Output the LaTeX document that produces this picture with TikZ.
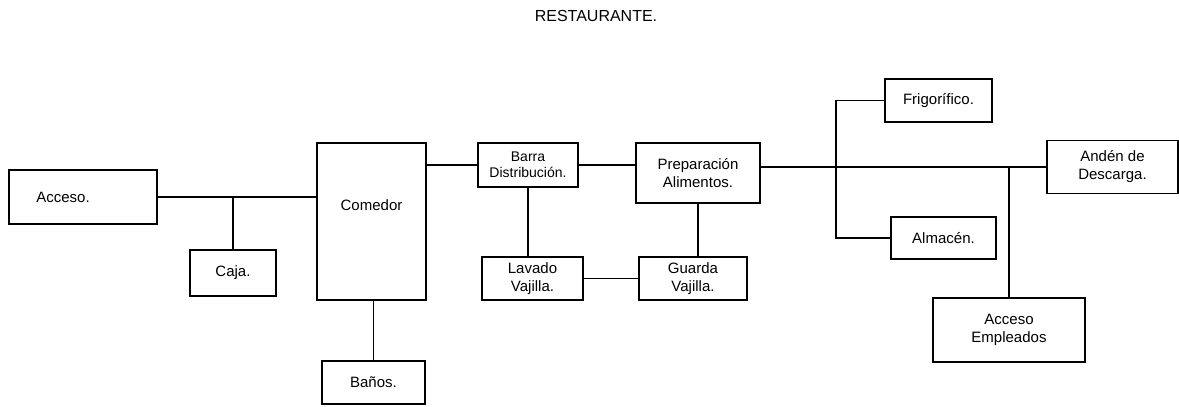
\documentclass[tikz,border=0pt]{standalone}
\usepackage{fontspec}
\setmainfont{Liberation Sans}
\begin{document}
\begin{tikzpicture}[x=1pt,y=-1pt,
  blk/.style={draw, line width=1.5pt, inner sep=0pt, align=center,
    font=\fontsize{15}{18}\selectfont},
  link/.style={line width=1.5pt}]
\useasboundingbox[fill=white] (0,0) rectangle (1179,407);
\node[font=\fontsize{16}{18}\selectfont] (title) at (596,16) {RESTAURANTE.};
\node[blk, minimum width=148, minimum height=54] (acceso) at (83,197) {Acceso.\hspace*{40pt}};
\node[blk, minimum width=86, minimum height=46] (caja) at (233,273) {Caja.};
\node[blk, minimum width=109, minimum height=157] (comedor) at (371.5,221.5) {Comedor\\[14pt]};
\node[blk, minimum width=103, minimum height=43] (banos) at (373.5,382.5) {Baños.};
\node[blk, minimum width=100, minimum height=44, font=\fontsize{14}{16}\selectfont] (barra) at (528,165) {Barra\\Distribución.};
\node[blk, minimum width=124, minimum height=60] (prep) at (698,173) {Preparación\\Alimentos.};
\node[blk, minimum width=101, minimum height=43] (lavado) at (532.5,278.5) {Lavado\\Vajilla.};
\node[blk, minimum width=108, minimum height=43] (guarda) at (693,278.5) {Guarda\\Vajilla.};
\node[blk, minimum width=107, minimum height=43] (frigo) at (938.5,100.5) {Frigorífico.};
\node[blk, minimum width=105, minimum height=42] (almacen) at (943.5,238) {Almacén.};
\node[blk, minimum width=131, minimum height=53] (anden) at (1112.5,167) {Andén de\\Descarga.};
\node[blk, minimum width=152, minimum height=64] (empleados) at (1009,330) {Acceso\\Empleados};
\coordinate (bk) at (836,169);
\draw[link] (acceso.east) -- (acceso.east -| comedor.west);
\draw[link] (caja.north) -- (caja.north |- acceso.east);
\draw[link] (barra.west) -- (barra.west -| comedor.east);
\draw[link] (banos.north) -- (banos.north |- comedor.south);
\draw[link] (barra.east) -- (barra.east -| prep.west);
\draw[link] (barra.south) -- (barra.south |- lavado.north);
\draw[link] (prep.south) -- (prep.south |- guarda.north);
\draw[link] (lavado.east) -- (guarda.west);
\draw[link] (anden.west) -- (anden.west -| prep.east);
\draw[link] (frigo.west) -| (bk) |- (almacen.west);
\draw[link] (empleados.north) -- (empleados.north |- anden.west);
\end{tikzpicture}
\end{document}
